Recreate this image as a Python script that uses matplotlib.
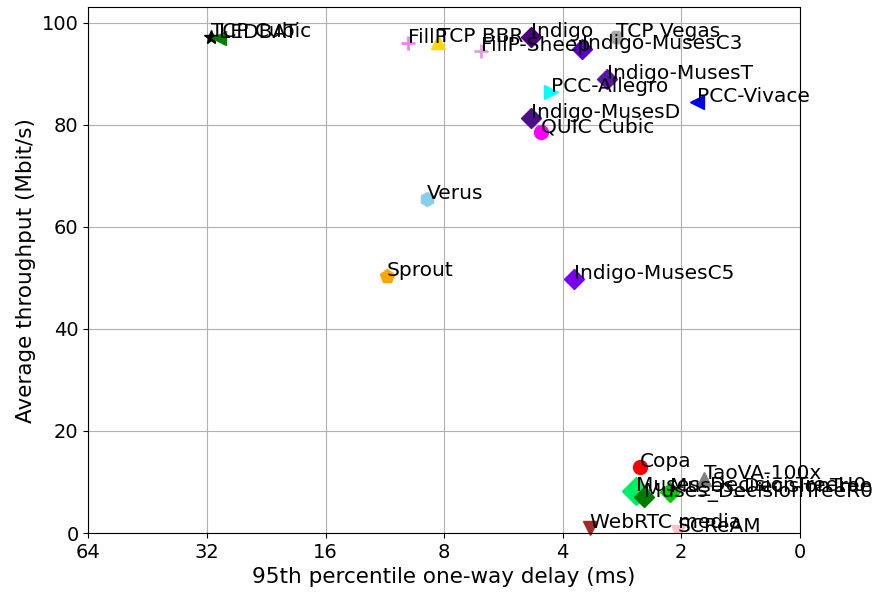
import matplotlib
matplotlib.use("Agg")
import matplotlib.pyplot as plt

# scheme data: name, delay (ms), throughput (Mbit/s)
schemes = ["TCP Cubic", "LEDBAT", "FillP", "TCP BBR", "FillP-Sheep", "Indigo",
           "Indigo-MusesC3", "TCP Vegas", "Indigo-MusesT", "PCC-Allegro",
           "PCC-Vivace", "Indigo-MusesD", "QUIC Cubic", "Verus", "Sprout",
           "Indigo-MusesC5", "Copa", "TaoVA-100x", "Muses_DecisionTreeH0",
           "Muses_DecisionTreeR0", "Muses_DecisionTree", "WebRTC media", "SCReAM"]
delays = [31.3, 29.9, 9.9, 8.3, 6.43, 4.8,
          3.58, 2.93, 3.09, 4.29,
          1.82, 4.82, 4.55, 8.86, 11.2,
          3.75, 2.55, 1.75, 2.61,
          2.48, 2.14, 3.40, 2.04]
tputs = [97.1, 96.9, 95.9, 96.2, 94.5, 97.1,
         94.9, 97.2, 89.0, 86.3,
         84.5, 81.4, 78.5, 65.4, 50.3,
         49.7, 12.9, 10.6, 8.2,
         7.0, 8.0, 1.0, 0.2]
colors = ["black", "green", "violet", "gold", "plum", "#4b0082",
          "#5d00c6", "darkgray", "#5a16a8", "cyan",
          "blue", "#4b0f8c", "magenta", "skyblue", "orange",
          "#7b00f0", "red", "gray", "#00ee66",
          "#007a00", "#00cc00", "brown", "pink"]
markers = ["*", "<", "+", "^", "+", "D",
           "D", "8", "D", ">",
           "<", "D", "o", "h", "p",
           "D", "o", "^", "D",
           "D", "D", "v", "v"]
sizes = [10, 10, 10, 10, 10, 10,
         10, 10, 10, 10,
         10, 10, 10, 10, 10,
         10, 10, 10, 14,
         10, 10, 10, 10]

x_ticks = [64, 32, 16, 8, 4, 2, 1]
x_tick_labels = ["64", "32", "16", "8", "4", "2", "0"]

fig, ax = plt.subplots(figsize=(8.75, 6.03), dpi=100)
fig.subplots_adjust(left=0.101, right=0.914, bottom=0.116, top=0.988)

for name, d, t, c, m, s in zip(schemes, delays, tputs, colors, markers, sizes):
    ax.plot(d, t, marker=m, color=c, markersize=s, linestyle="none",
            markeredgewidth=2 if m == "+" else 1, clip_on=(name == "SCReAM"))
    ax.annotate(name, (d, t), fontsize=14.5)

ax.set_xscale("log", base=2)
ax.set_xlim(64, 1)
ax.set_ylim(0, 103)
ax.set_xticks(x_ticks)
ax.set_xticklabels(x_tick_labels)
ax.minorticks_off()
ax.tick_params(labelsize=14)
ax.set_xlabel("95th percentile one-way delay (ms)", fontsize=15.5)
ax.set_ylabel("Average throughput (Mbit/s)", fontsize=15.5)
ax.grid(True)

fig.savefig("out.png")
